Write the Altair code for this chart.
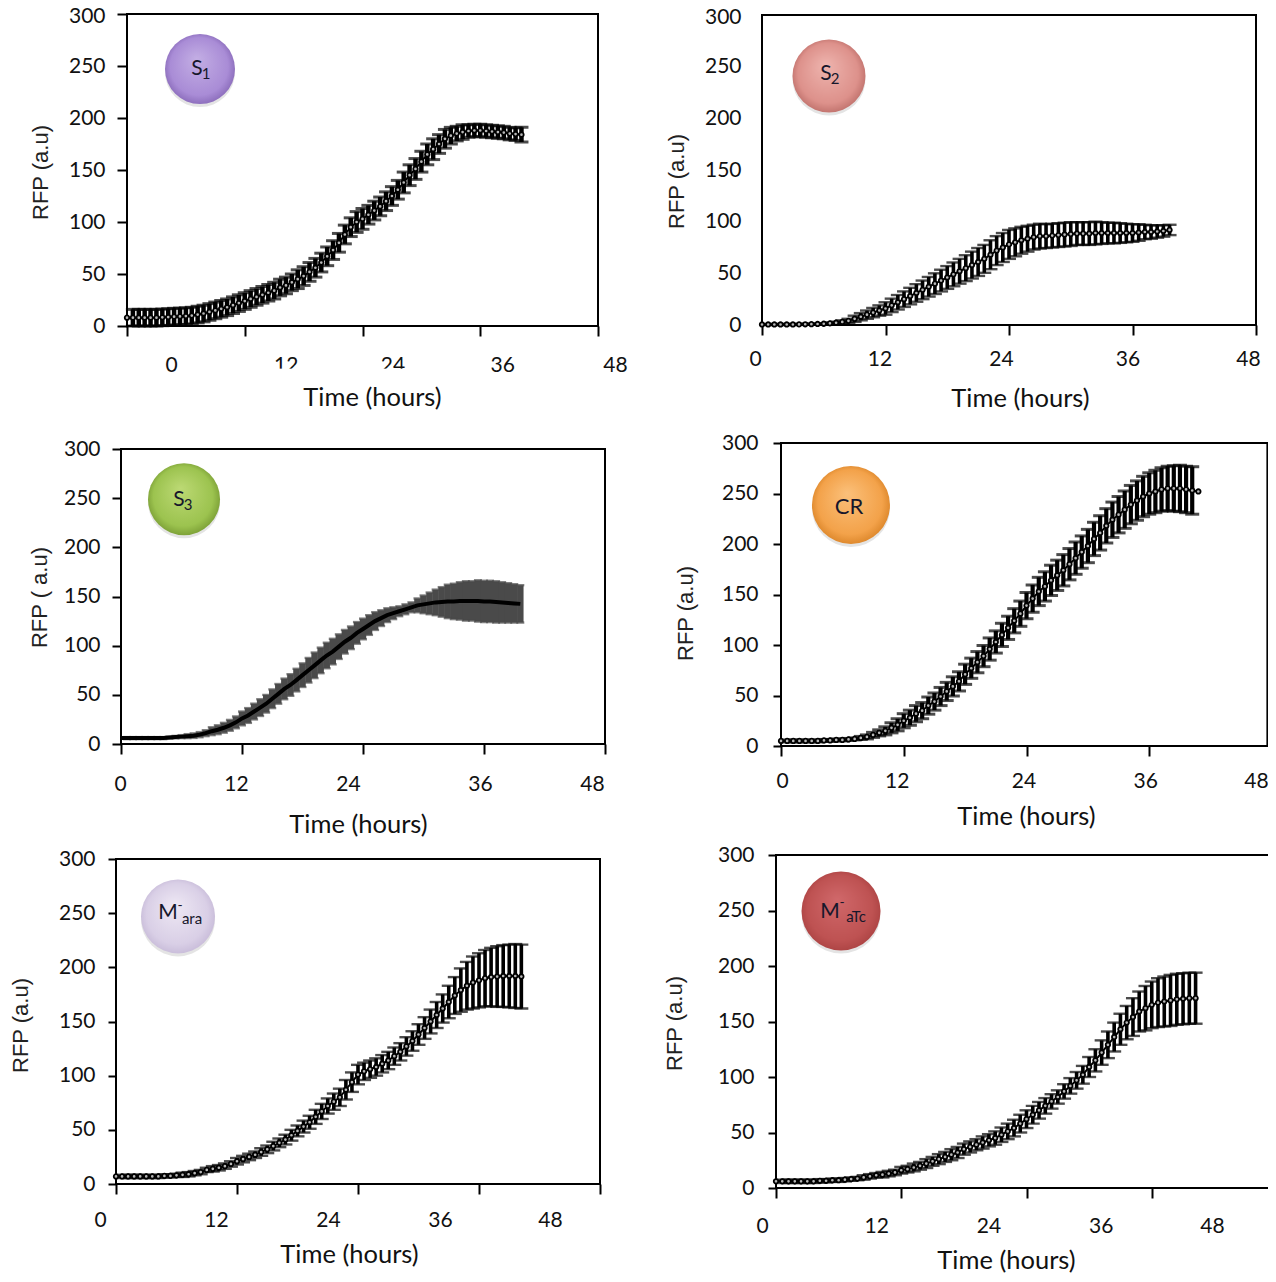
import altair as alt
import pandas as pd

# ---------- values ----------
s1_mean = [8,8,8,8,8,8,8.3,8.6,9,9.2,9.5,10,11,12,13.5,15,16.5,18,20,22,24,26,28,30,32,34,37,39,42,45,48,52,56,61,67,73,80,88,95,100,103,107,111,115,120,125,131,138,145,151,158,165,170,175,180,183,185,186.5,187.5,188,188,187.5,187,186.5,186,185,184.5,184]
s1_err = [0,8,8,8,8,8,8,8,8,8,8,8,8,8,8,8,8,8,8,8,8,8,8,8,8,8,8,8,8,9,9,9,9,9,9,9,9,9,9,10,10,9,9,9,9,9,9,10,10,10,10,10,10,9,9,8,7,7,6,6,6,6,6,6,6,6,6,7]
s2_mean = [0.5,0.5,0.5,0.5,0.5,0.5,0.6,0.7,0.8,1,1.2,1.6,2.2,3,4,6,8,10,12,14,16,19,22,25,28,31,34,37,40,43,46,49,52,55,58,61,64,68,72,75,78,80,82,83.5,85,86,86,86.5,87,87.5,88,88.5,88.5,88.5,89,89,89,89,89,89,89,89.5,90,90,90.5,91,92]
s2_err = [0,0.5,0.5,0.5,0.5,0.5,0.5,0.5,0.5,0.5,0.5,1,1,1.5,2,3,3.5,4,4.5,5,6,6.5,7,7.5,8,8.5,9,9.5,10,10.5,11,11.5,12,12.5,13,13.5,13.5,14,14,14,14,13.5,13,12.5,12,12,11.5,11.5,11.5,11.5,11.5,11,11,11,11,10.5,10,10,9.5,9,8.5,8,7,6.5,6,5.5,5]
s3_mean = [6,6,6,6,6,6,6,6,6.5,7,7.5,8,8.5,9.5,11,13,14.5,16.5,19,22,26,29,33,37,41,46,51,56,60,65,70,75,80,85,90,94,99,104,108,113,117,121,125,128,131,133,135,137,139,141,142,143,144,144.5,145,145,145.5,145.5,145.5,145.5,145,145,144.5,144,143.5,143,142.5]
s3_err = [0,1,1,1,1,1,1,1,1,1.2,1.5,2,2.3,2.6,3,4,4.5,5,5.5,6,7,7.5,8,8.5,9,9.5,10,10.5,11,11.5,12,12.5,13,13,13,13,12.5,12,11.5,11,10.5,10,9,8,7,6,5,5,5,7,9,11,13,15,17,18,19,20,20,21,21,21,21,20.5,20,19.5,19]
cr_mean = [5,5,5,5,5,5,5,5.5,5.5,6,6,6.5,7,8,9,11,13,15,18,21,25,28,32,35,40,44,49,54,59,64,71,77,83,89,96,103,110,117,124,131,139,146,153,158,164,169,174,180,186,192,198,205,211,218,224,229,234,239,243,247,250,252,254,255,255,255,254,253,252]
cr_err = [0,1,1,1,1,1,1,1,1,1,1,1,1,1.5,2,2.5,3,4,5,6,7,7.5,8,8,8.5,8.5,9,9,9.5,9.5,10,10,10.5,10.5,11,11,11.5,11.5,12,12.5,13,13.5,14,14.5,15,15,15.5,15.5,16,16,16.5,16.5,17,17,17.5,18,18.5,19,19.5,20,20.5,21,21.5,22,22.5,23,23,23.5,0]
mara_mean = [7,7,7,7,7,7,7,7,7.5,7.5,8,8.5,9,10,11,13,14,15,16.5,18.5,21,23,25,27,29.5,32,35,38,41,45,49,53,57,62,67,72,76,80,87,94,101,104,106,108,111,114,118,122,127,132,138,144,150,156,162,168,174,179,183,186,188,190,191,191.5,192,192,192,191.5]
mara_err = [0,1.5,1.5,1.5,1.5,1.5,1.5,1.5,1.5,1.5,1.5,2,2,2,2,2,2.5,2.5,2.5,2.5,3,3,3,3,3.5,3.5,4,4,4.5,5,5,5.5,6,6.5,7,7,7.5,8,9,9,9,8,8,8,8,8,8,8,8.5,9,9.5,10,11,12,13,15,17,20,22,24,25,26,27,28,28.5,29,29.5,29.5]
matc_mean = [6,6,6,6,6,6,6,6.5,6.5,7,7,7.5,8,8.5,9.5,10.5,11.5,12,13,14,16,17,18.5,20,22,24,26,28,30,32,35,37,39,41,43,45,48,51,54,58,62,66,70,74,78,82,87,92,97,102,109,115,122,129,136,143,149,154,159,162,165,167,168,169,170,170.5,171,171]
matc_err = [0,1.5,1.5,1.5,1.5,1.5,1.5,1.5,1.5,1.5,1.5,1.5,1.5,1.5,2,2,2,2.5,2.5,2.5,3,3,3.5,3.5,4,4,4.5,4.5,5,5,5,5,5,5.5,5.5,6,6.5,7,7.5,8,8,8,7.5,7,6.5,6,6.5,7,7.5,8,9,10,11,12,13,14,15,17,18,20,21,22,22.5,23,23,23,23,23]

x_ticks = [0, 12, 24, 36, 48]
y_ticks = [0, 50, 100, 150, 200, 250, 300]
SAMPLE_HOURS = 0.6

# ---------- layout of the six panels (page pixels) ----------
W, H = 1260, 1266
PAGE = 8
panels = [
    dict(mean=s1_mean, err=s1_err, l=127, r=598, t=14, b=326, ytick=10, ylab=105, ytitle="RFP (a.u)", ytx=40, yty=172,
         xlab=[44, 41, 30, 22, 17], xpad=18, ttx=372, tty=397, bar=4.5, cap=3, ytop=2.5,
         badge=(7.44, 247, 70), stops=("#c3aee4", "#a98cd6", "#8364b4"),
         parts=[("S", -3, 0, 21), ("1", 6, 5, 15)]),
    dict(mean=s2_mean, err=s2_err, l=762, r=1256, t=15, b=325, ytick=0, ylab=741, ytitle="RFP (a.u)", ytx=676, yty=181,
         xlab=[-7, -6, -8, -5, -8], xpad=13, ttx=1020, tty=398, ytop=2,
         badge=(6.51, 241, 73), stops=("#eeb4ae", "#dd918b", "#b96a65"),
         parts=[("S", -3, -2, 21), ("2", 6, 3, 15)]),
    dict(mean=s3_mean, err=s3_err, l=121, r=605, t=449, b=744, ytick=9, ylab=100, ytitle="RFP ( a.u)", ytx=39, yty=597,
         xlab=[-1, -6, -15, -4, -13], xpad=19, ttx=358, tty=824, gray=True,
         badge=(6.25, 249, 72), stops=("#bcd974", "#9cc34f", "#739630"),
         parts=[("S", -5, 1, 21), ("3", 4, 6, 15)]),
    dict(mean=cr_mean, err=cr_err, l=781, r=1272, t=443, b=746, ytick=8, ylab=758, ytitle="RFP (a.u)", ytx=685, yty=613,
         xlab=[1, -7, -3, -4, -16], xpad=14, ttx=1026, tty=816, bar=4.2, cap=3, frame_end=47.55,
         badge=(6.84, 238.6, 78), stops=("#fbc07a", "#f3a24a", "#d67f22"),
         parts=[("CR", -2, 2, 22)]),
    dict(mean=mara_mean, err=mara_err, l=116, r=600, t=859, b=1184, ytick=8, ylab=95, ytitle="RFP (a.u)", ytx=20, yty=1025,
         xlab=[-16, -21, -30, -39, -50], xpad=15, ttx=349, tty=1254,
         badge=(6.15, 247, 74), stops=("#eee8f4", "#d9cfe6", "#c4b7d6"),
         parts=[("M", -10, -3, 21), ("-", 2, -10, 14), ("ara", 14, 3, 15)]),
    dict(mean=matc_mean, err=matc_err, l=776, r=1277, t=855, b=1188, ytick=8, ylab=754, ytitle="RFP (a.u)", ytx=674, yty=1023,
         xlab=[-14, -25, -38, -51, -65], xpad=17, ttx=1006, tty=1260,
         badge=(6.23, 249.5, 79), stops=("#d0686a", "#be5252", "#a84040"),
         parts=[("M", -11, 1, 21), ("-", 1, -8, 14), ("aTc", 15, 6, 15)]),
]

# the 12 and 24 of the first panel are cut through in the reference
masks = pd.DataFrame({"x": [14.6, 25.4], "x2": [17.8, 28.6], "y": [-41, -41], "y2": [-55, -55]})

LABEL_FONT = "Lato"
TITLE_FONT = "Lato"
Y_TITLE_FONT = "Liberation Sans"
INK = "#111111"


def build(p, first):
    left, right = p["l"] - PAGE, p["r"] - PAGE
    top, bottom = p["t"] - PAGE, p["b"] - PAGE
    xs = alt.Scale(domain=[0, 48], range=[left, right], nice=False)
    ys = alt.Scale(domain=[0, 300], range=[bottom, top], nice=False)
    x_cond = [{"test": f"datum.value === {v}", "value": off} for v, off in zip(x_ticks, p["xlab"])]
    x_axis = alt.Axis(
        orient="bottom", values=x_ticks, format="d", grid=False, domain=False,
        offset=bottom - H, tickSize=10, tickWidth=2, tickColor="#000000",
        labelFont=LABEL_FONT, labelFontSize=21, labelColor=INK, labelPadding=p["xpad"],
        labelFlush=False, labelOverlap=False, labelBound=False,
        labelOffset={"condition": x_cond, "value": 0},
        titleFont=TITLE_FONT, titleFontSize=25.5, titleFontWeight="normal", titleColor=INK,
        titleX=p["ttx"] - PAGE, titleY=p["tty"] - p["b"], titleAlign="center", titleBaseline="middle",
    )
    y_axis = alt.Axis(
        orient="left", values=y_ticks, format="d", grid=False, domain=False,
        offset=-left, tickSize=p["ytick"], tickWidth=2, tickColor="#000000",
        labelFont=LABEL_FONT, labelFontSize=21, labelColor=INK,
        labelPadding=p["l"] - p["ytick"] - p["ylab"], labelOverlap=False, labelBound=False, labelFlush=False,
        labelOffset={"condition": [{"test": "datum.value === 300", "value": p.get("ytop", 0)}], "value": 0},
        titleFont=Y_TITLE_FONT, titleFontSize=22, titleFontWeight="normal", titleColor="#222222",
        titleX=p["ytx"] - p["l"], titleY=p["yty"] - PAGE, titleAlign="center", titleBaseline="middle",
        titleAngle=270,
    )
    X = lambda f: alt.X(f, type="quantitative", scale=xs, axis=x_axis, title="Time (hours)")
    Y = lambda f: alt.Y(f, type="quantitative", scale=ys, axis=y_axis, title=p["ytitle"])

    df = pd.DataFrame({
        "t": [i * SAMPLE_HOURS for i in range(len(p["mean"]))],
        "m": p["mean"],
        "lo": [m - e for m, e in zip(p["mean"], p["err"])],
        "hi": [m + e for m, e in zip(p["mean"], p["err"])],
    })
    gray = p.get("gray", False)
    bar_col = "#4a4a4a" if gray else "#000000"
    bar_w = 6.5 if gray else p.get("bar", 3.6)
    cap_t = p.get("cap", 2.4)
    cap_s = 8 if gray else 14

    frame_df = pd.DataFrame({"x": [0], "x2": [p.get("frame_end", 48)], "y": [0], "y2": [300]})
    frame = alt.Chart(frame_df).mark_rect(fillOpacity=0, stroke="#000000", strokeWidth=2).encode(
        x=X("x"), x2="x2:Q", y=Y("y"), y2="y2:Q",
    )

    base = alt.Chart(df)
    bars = base.transform_filter("datum.hi > datum.lo")
    rules = bars.mark_rule(color=bar_col, strokeWidth=bar_w).encode(x=X("t"), y=Y("lo"), y2="hi:Q")
    cap_hi = bars.mark_tick(orient="horizontal", size=cap_s, thickness=cap_t, color=bar_col).encode(x=X("t"), y=Y("hi"))
    cap_lo = bars.mark_tick(orient="horizontal", size=cap_s, thickness=cap_t, color=bar_col).encode(x=X("t"), y=Y("lo"))
    if gray:
        line = base.mark_line(color="#000000", strokeWidth=4).encode(x=X("t"), y=Y("m"))
        series = [rules, cap_hi, cap_lo, line]
    else:
        line = base.mark_line(color="#000000", strokeWidth=2).encode(x=X("t"), y=Y("m"))
        points = base.mark_point(filled=False, shape="circle", size=20, stroke="#000000", strokeWidth=1.8,
                                 fill="#b8b8b8", fillOpacity=1).encode(x=X("t"), y=Y("m"))
        series = [rules, cap_hi, cap_lo, line, points]

    bx, by, d = p["badge"]
    size = d ** 2
    bdf = pd.DataFrame({"x": [bx], "y": [by]})
    shadow = alt.Chart(bdf).mark_point(filled=True, shape="circle", size=size, color="#777777", opacity=0.2,
                                       yOffset=3).encode(x=X("x"), y=Y("y"))
    c0, c1, c2 = p["stops"]
    fill = alt.RadialGradient(gradient="radial", x1=0.45, y1=0.35, r1=0, x2=0.5, y2=0.5, r2=0.55,
                              stops=[alt.GradientStop(offset=0, color=c0),
                                     alt.GradientStop(offset=0.75, color=c1),
                                     alt.GradientStop(offset=1, color=c2)])
    ball = alt.Chart(bdf).mark_point(filled=True, shape="circle", size=size, fill=fill, fillOpacity=1,
                                     strokeOpacity=0).encode(x=X("x"), y=Y("y"))
    texts = [
        alt.Chart(pd.DataFrame({"x": [bx], "y": [by], "s": [s]})).mark_text(
            dx=dx, dy=dy, fontSize=fs, font=LABEL_FONT, color="#17172b", align="center", baseline="middle"
        ).encode(x=X("x"), y=Y("y"), text="s:N")
        for s, dx, dy, fs in p["parts"]
    ]

    layers = [frame] + series + [shadow, ball] + texts
    if first:
        layers.append(alt.Chart(masks).mark_rect(color="#ffffff").encode(x=X("x"), x2="x2:Q", y=Y("y"), y2="y2:Q"))
    return alt.layer(*layers)


chart = alt.layer(*[build(p, i == 0) for i, p in enumerate(panels)]).resolve_scale(
    x="independent", y="independent"
).resolve_axis(
    x="independent", y="independent"
).properties(
    width=W, height=H, padding=0, background="white",
    autosize=alt.AutoSizeParams(type="none", contains="content"),
).configure_view(stroke=None)

chart.save("out.html", embed_options={"renderer": "svg", "actions": False})
